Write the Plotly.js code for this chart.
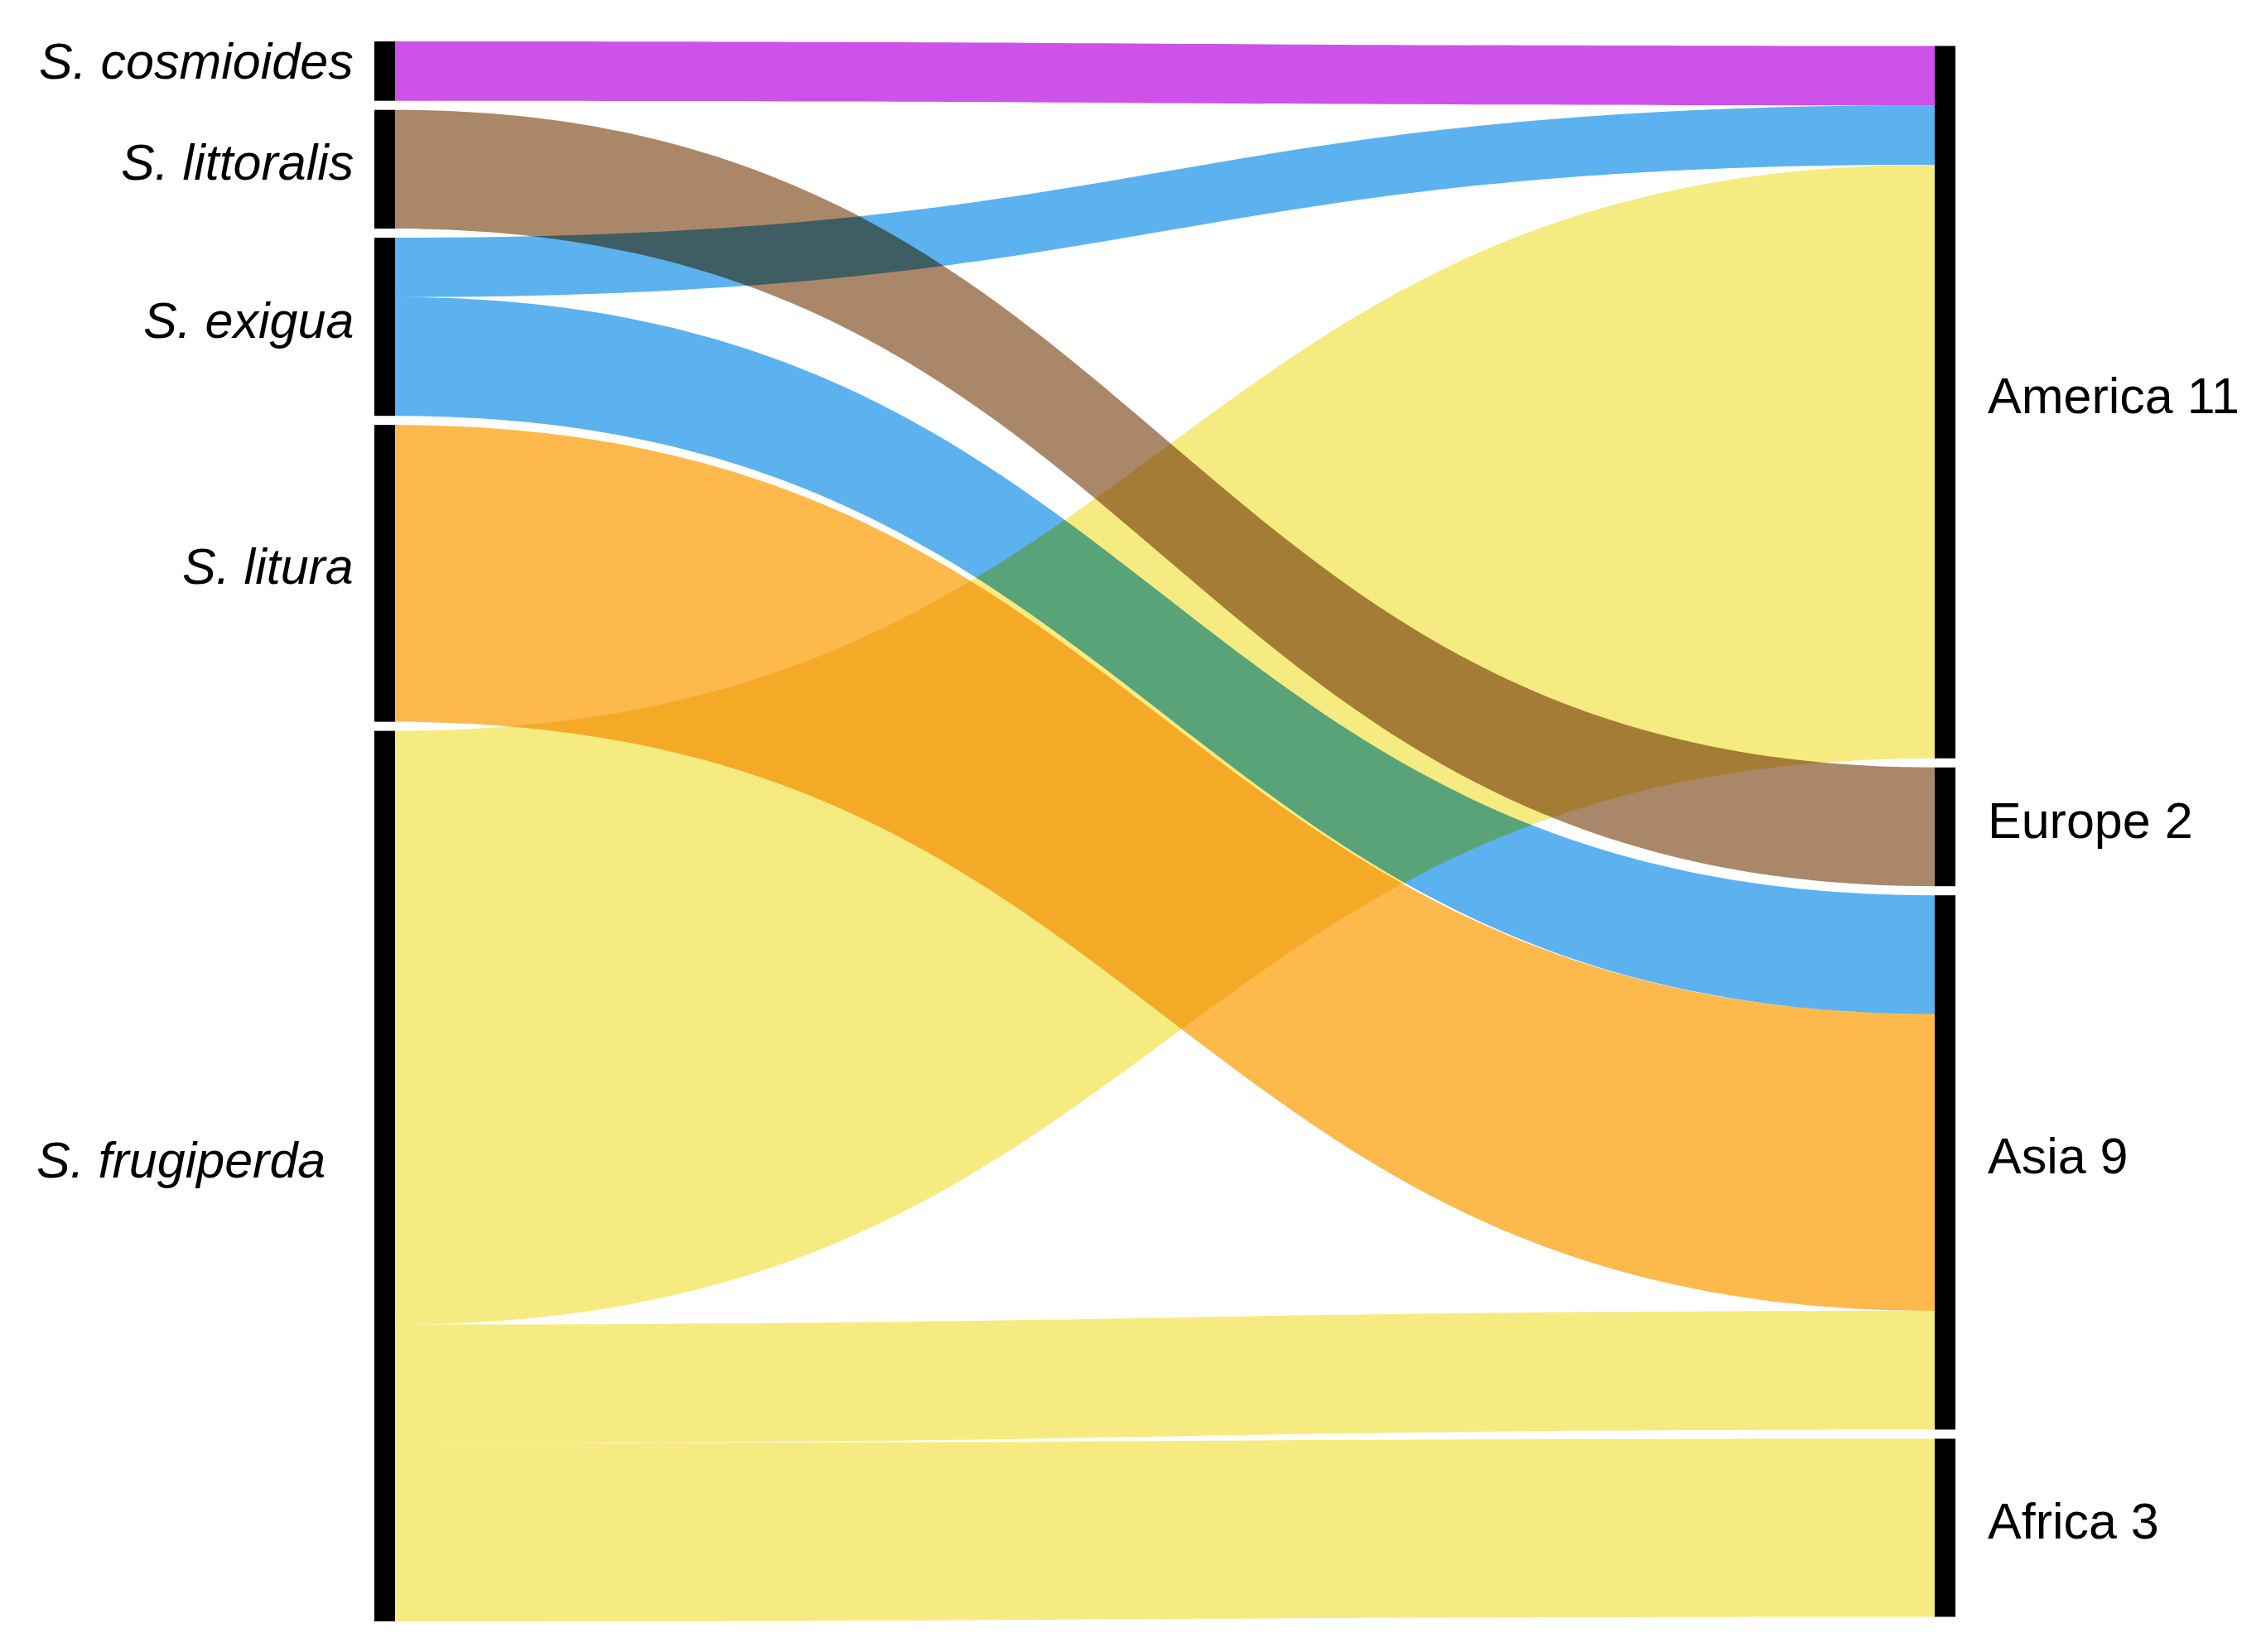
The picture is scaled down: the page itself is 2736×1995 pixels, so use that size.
<!DOCTYPE html>
<html>
<head>
<meta charset="utf-8">
<script src="https://cdn.plot.ly/plotly-3.0.1.min.js"></script>
<style>
  html, body { margin: 0; padding: 0; background: #ffffff; }
  #chart { width: 2736px; height: 1995px; }
  .sankey-link { mix-blend-mode: multiply; }
</style>
</head>
<body>
<div id="chart"></div>
<script>
// ---------------- DATA ----------------
const species = ['S. cosmioides', 'S. littoralis', 'S. exigua', 'S. litura', 'S. frugiperda'];
const regions = ['America', 'Europe', 'Asia', 'Africa'];
const regionCounts = [11, 2, 9, 3];
const speciesColors = ['#CD52E9', '#AB8769', '#5CB1EF', '#FDB94C', '#F6EB80'];

const linkSource = ['S. cosmioides', 'S. littoralis', 'S. exigua', 'S. exigua', 'S. litura',
                    'S. frugiperda', 'S. frugiperda', 'S. frugiperda'];
const linkTarget = ['America', 'Europe', 'America', 'Asia', 'Asia',
                    'America', 'Asia', 'Africa'];
const linkValue  = [1, 2, 1, 2, 5, 10, 2, 3];

// ---------------- LAYOUT SETTINGS ----------------
const PAGE_W = 2736, PAGE_H = 1995;
const domX = [452 / PAGE_W, 2361 / PAGE_W];
const domY = [37 / PAGE_H, 1945 / PAGE_H];
const THICK = 25, PAD = 11;
const FONT = '"Liberation Sans", Arial, Helvetica, sans-serif';
const FONT_SIZE = 61;
const LABEL_LIFT = 8;

// ---------------- BUILD ----------------
const nodeNames = species.concat(regions);
const idx = n => nodeNames.indexOf(n);

const spTot = species.map(s => linkSource.reduce((a, v, i) => a + (v === s ? linkValue[i] : 0), 0));
const rgTot = regions.map(r => linkTarget.reduce((a, v, i) => a + (v === r ? linkValue[i] : 0), 0));

const W = PAGE_W * (domX[1] - domX[0]);
const H = PAGE_H * (domY[1] - domY[0]);
const sum = a => a.reduce((x, y) => x + y, 0);
const ky = Math.min((H - (species.length - 1) * PAD) / sum(spTot),
                    (H - (regions.length - 1) * PAD) / sum(rgTot));

function centers(vals) {
  const colH = sum(vals) * ky + (vals.length - 1) * PAD;
  let y = (H - colH) / 2;
  return vals.map(v => { const c = y + v * ky / 2; y += v * ky + PAD; return c; });
}
const spC = centers(spTot);
const rgC = centers(rgTot);

const nodeX = species.map(() => (THICK / 2) / W).concat(regions.map(() => 1 - (THICK / 2) / W));
const nodeY = spC.concat(rgC).map(c => c / H);

const trace = {
  type: 'sankey',
  arrangement: 'fixed',
  domain: { x: domX, y: domY },
  hoverinfo: 'none',
  node: {
    label: nodeNames.map(() => ''),
    customdata: nodeNames,
    x: nodeX,
    y: nodeY,
    pad: PAD,
    thickness: THICK,
    color: nodeNames.map(() => '#000000'),
    line: { width: 0 },
    hoverinfo: 'none'
  },
  link: {
    source: linkSource.map(idx),
    target: linkTarget.map(idx),
    value: linkValue,
    color: linkSource.map(s => speciesColors[species.indexOf(s)]),
    line: { width: 0 },
    hoverinfo: 'none'
  }
};

const leftNudge = { 'S. frugiperda': { x: -34, y: 11 }, 'S. cosmioides': { x: 0, y: 4 } };
const annotations = [];
species.forEach((s, i) => {
  const n = leftNudge[s] || { x: 0, y: 0 };
  annotations.push({
    xref: 'paper', yref: 'paper',
    x: domX[0] - 23 / PAGE_W, y: domY[1] - spC[i] / PAGE_H,
    xanchor: 'right', yanchor: 'middle',
    xshift: n.x, yshift: n.y + LABEL_LIFT,
    text: '<i>' + s + '</i>', showarrow: false,
    font: { family: FONT, size: FONT_SIZE, color: '#000000' }
  });
});
regions.forEach((r, i) => {
  annotations.push({
    xref: 'paper', yref: 'paper',
    x: domX[1] + 37 / PAGE_W, y: domY[1] - rgC[i] / PAGE_H,
    xanchor: 'left', yanchor: 'middle',
    yshift: LABEL_LIFT,
    text: r + ' ' + regionCounts[i], showarrow: false,
    font: { family: FONT, size: FONT_SIZE, color: '#000000' }
  });
});

const layout = {
  width: PAGE_W, height: PAGE_H,
  margin: { l: 0, r: 0, t: 0, b: 0 },
  paper_bgcolor: '#ffffff',
  plot_bgcolor: '#ffffff',
  font: { family: FONT, size: FONT_SIZE, color: '#000000' },
  showlegend: false,
  annotations: annotations
};

Plotly.newPlot('chart', [trace], layout, { displayModeBar: false, staticPlot: true });
</script>
</body>
</html>
